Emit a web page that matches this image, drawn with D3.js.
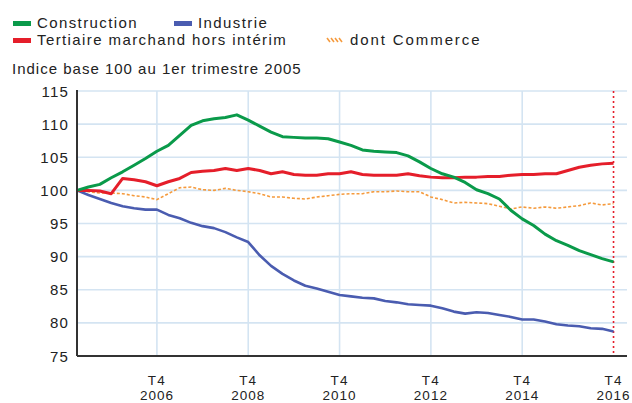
<!DOCTYPE html>
<html lang="fr">
<head>
<meta charset="UTF-8">
<title>Indice base 100</title>
<script src="https://d3js.org/d3.v7.min.js"></script>
<style>
  body { margin: 0; background: #fff; }
  svg text { font-family: "Liberation Sans", Arial, sans-serif; fill: #222; }
</style>
</head>
<body>
<svg id="chart" width="632" height="403"></svg>
<script>
// quarterly series, Q1 2005 -> Q4 2016
const construction = [100.0, 100.5, 100.9, 101.9, 102.8, 103.8, 104.8, 105.9, 106.8, 108.3, 109.8, 110.5,
  110.8, 111.0, 111.4, 110.6, 109.7, 108.8, 108.1, 108.0, 107.9, 107.9, 107.8, 107.3,
  106.8, 106.1, 105.9, 105.8, 105.7, 105.2, 104.3, 103.3, 102.5, 102.0, 101.2, 100.1,
  99.5, 98.7, 97.0, 95.7, 94.7, 93.4, 92.4, 91.7, 90.9, 90.3, 89.7, 89.2];
const industrie = [100.0, 99.3, 98.7, 98.1, 97.6, 97.3, 97.1, 97.1, 96.3, 95.8, 95.1, 94.6,
  94.3, 93.7, 92.9, 92.2, 90.2, 88.6, 87.4, 86.4, 85.6, 85.2, 84.7, 84.2,
  84.0, 83.8, 83.7, 83.3, 83.1, 82.8, 82.7, 82.6, 82.2, 81.7, 81.4, 81.6,
  81.5, 81.2, 80.9, 80.5, 80.5, 80.2, 79.8, 79.6, 79.5, 79.2, 79.1, 78.7];
const tertiaire = [100.0, 100.0, 99.9, 99.5, 101.8, 101.6, 101.3, 100.7, 101.3, 101.8, 102.7, 102.9,
  103.0, 103.3, 103.0, 103.3, 103.0, 102.5, 102.8, 102.4, 102.3, 102.3, 102.5, 102.5,
  102.8, 102.4, 102.3, 102.3, 102.3, 102.5, 102.2, 102.0, 101.9, 101.9, 102.0, 102.0,
  102.1, 102.1, 102.3, 102.4, 102.4, 102.5, 102.5, 103.0, 103.5, 103.8, 104.0, 104.1];
const commerce = [100.0, 99.8, 99.6, 99.6, 99.5, 99.2, 99.0, 98.6, 99.5, 100.4, 100.5, 100.1,
  100.0, 100.3, 100.0, 99.8, 99.5, 99.0, 99.0, 98.8, 98.7, 99.0, 99.2, 99.4,
  99.5, 99.5, 99.8, 99.8, 99.9, 99.8, 99.8, 99.0, 98.6, 98.1, 98.2, 98.1,
  98.0, 97.6, 97.2, 97.5, 97.3, 97.5, 97.3, 97.5, 97.7, 98.1, 97.8, 98.0];

const years = [2006, 2008, 2010, 2012, 2014, 2016];
const yTicks = [75, 80, 85, 90, 95, 100, 105, 110, 115];
const legendRow1 = ["Construction", "Industrie"];
const legendRow2 = ["Tertiaire marchand hors intérim", "dont Commerce"];
const subtitle = "Indice base 100 au 1er trimestre 2005";

// index of a quarter counted from Q1 2005
const qIndex = (year, q) => (year - 2005) * 4 + (q - 1);

const series = [
  { name: "Commerce", values: commerce, color: "#f59a3c", width: 1.6, dash: "3,2" },
  { name: "Industrie", values: industrie, color: "#4a5cb0", width: 2.6 },
  { name: "Tertiaire", values: tertiaire, color: "#e51e2a", width: 3 },
  { name: "Construction", values: construction, color: "#0a9a4a", width: 3 }
];

const svg = d3.select("#chart");
const x = d3.scaleLinear().domain([0, 48.18]).range([77, 627]);
const y = d3.scaleLinear().domain([75, 115]).range([356, 91]);

// grid
svg.append("g").selectAll("line").data(yTicks.filter(d => d > 75)).join("line")
  .attr("x1", x(0)).attr("x2", x(48.18))
  .attr("y1", d => y(d)).attr("y2", d => y(d))
  .attr("stroke", "#d4e4f2").attr("stroke-width", 1.6);
svg.append("g").selectAll("line").data(years.slice(0, -1)).join("line")
  .attr("x1", d => x(qIndex(d, 4))).attr("x2", d => x(qIndex(d, 4)))
  .attr("y1", y(115)).attr("y2", y(75))
  .attr("stroke", "#d4e4f2").attr("stroke-width", 1.6);

// y axis labels
svg.append("g").selectAll("text").data(yTicks).join("text")
  .attr("x", 69).attr("y", d => y(d) + 5.5)
  .attr("text-anchor", "end")
  .style("font-size", "15px").style("letter-spacing", "1.2px")
  .text(d => d);

// x axis labels: "T4" over the year
const xl = svg.append("g").selectAll("g").data(years).join("g")
  .attr("transform", d => `translate(${x(qIndex(d, 4))},0)`)
  .attr("text-anchor", "middle")
  .style("font-size", "13.5px");
xl.append("text").attr("y", 385).style("letter-spacing", "1.2px").text("T4");
xl.append("text").attr("y", 400).style("letter-spacing", "1px").text(d => d);

// last data marker
svg.append("line")
  .attr("x1", x(qIndex(2016, 4))).attr("x2", x(qIndex(2016, 4)))
  .attr("y1", y(115)).attr("y2", y(75))
  .attr("stroke", "#e51e2a").attr("stroke-width", 1.6).attr("stroke-dasharray", "2,3");

// lines
const line = d3.line().x((d, i) => x(i)).y(d => y(d));
svg.append("g").selectAll("path").data(series).join("path")
  .attr("d", d => line(d.values))
  .attr("fill", "none")
  .attr("stroke", d => d.color)
  .attr("stroke-width", d => d.width)
  .attr("stroke-dasharray", d => d.dash || null)
  .attr("stroke-linejoin", "round");

// axes
svg.append("line").attr("x1", x(0)).attr("x2", x(0)).attr("y1", y(115) - 1).attr("y2", y(75))
  .attr("stroke", "#333").attr("stroke-width", 2);
svg.append("line").attr("x1", x(0)).attr("x2", x(48.18)).attr("y1", y(75)).attr("y2", y(75))
  .attr("stroke", "#333").attr("stroke-width", 2);

// legend
const legend = svg.append("g").style("font-size", "15px").style("letter-spacing", "1.4px");
function swatch(xp, yp, color) {
  legend.append("rect").attr("x", xp).attr("y", yp).attr("width", 18).attr("height", 5).attr("fill", color);
}
swatch(13, 21, "#0a9a4a");
legend.append("text").attr("x", 37).attr("y", 28).text(legendRow1[0]);
swatch(174, 21, "#4a5cb0");
legend.append("text").attr("x", 198).attr("y", 28).text(legendRow1[1]);
swatch(13, 38, "#e51e2a");
legend.append("text").attr("x", 37).attr("y", 45).text(legendRow2[0]);
for (let k = 0; k < 4; k++) {
  legend.append("line")
    .attr("x1", 327 + k * 4).attr("y1", 38)
    .attr("x2", 330 + k * 4).attr("y2", 42)
    .attr("stroke", "#f59a3c").attr("stroke-width", 1.5);
}
legend.append("text").attr("x", 350).attr("y", 45).style("letter-spacing", "1.9px").text(legendRow2[1]);

svg.append("text").attr("x", 12).attr("y", 74)
  .style("font-size", "15px").style("letter-spacing", "1px")
  .text(subtitle);
</script>
</body>
</html>
